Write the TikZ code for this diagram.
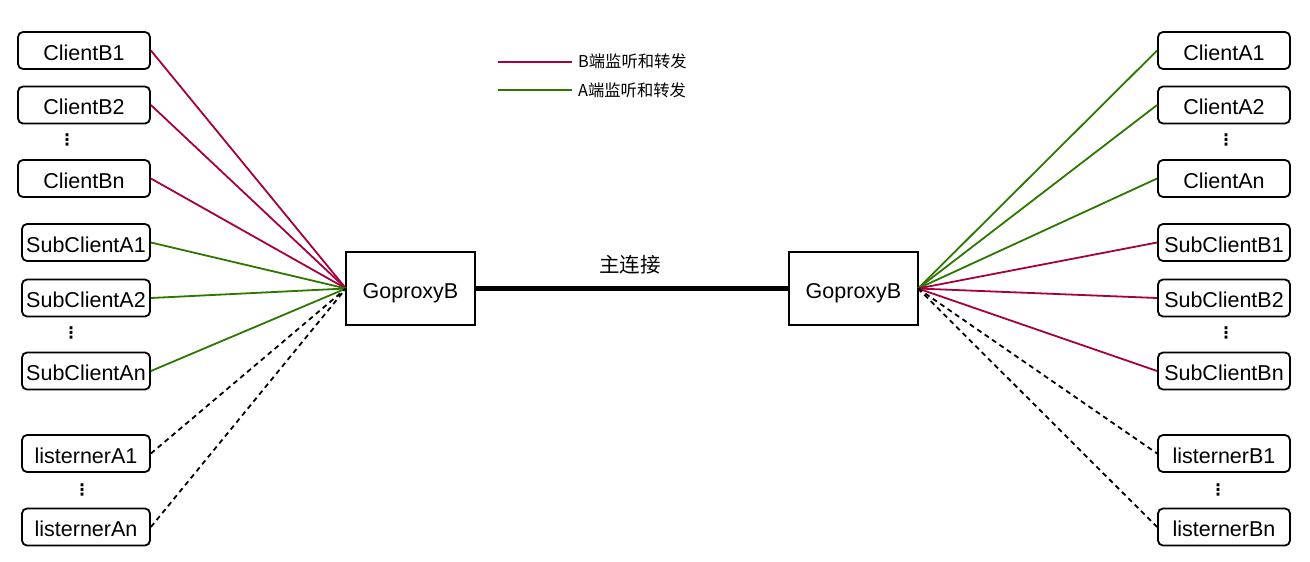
\documentclass[tikz,border=0pt]{standalone}
\usepackage{fontspec}
\setmainfont{Liberation Sans}
\newfontfamily\cjkfont{Noto Sans CJK SC}
\newfontfamily\dotfont{DejaVu Sans}
\definecolor{bred}{RGB}{165,0,64}
\definecolor{agreen}{RGB}{45,118,0}
\begin{document}
\begin{tikzpicture}[x=1pt,y=-1pt,
  cbox/.style={draw=black,line width=1.8pt,rounded corners=5pt,minimum width=132pt,minimum height=37pt,inner sep=0pt,text height=19.6pt,text depth=0pt,font=\fontsize{21.5}{24}\selectfont},
  sbox/.style={cbox,minimum width=128pt},
  gbox/.style={draw=black,line width=1.8pt,minimum width=129pt,minimum height=73pt,inner sep=0pt,text height=19.6pt,text depth=0pt,font=\fontsize{21.5}{24}\selectfont},
  vdot/.style={inner sep=0pt,font=\dotfont\bfseries\fontsize{16}{16}\selectfont},
  redline/.style={draw=bred,line width=1.8pt},
  greenline/.style={draw=agreen,line width=1.8pt},
  dashline/.style={draw=black,line width=1.8pt,dash pattern=on 5pt off 4pt},
  legtext/.style={anchor=west,inner sep=0pt,font=\cjkfont\fontsize{16.3}{18}\selectfont}
]
\useasboundingbox (0,0) rectangle (1310,562);
% left column
\node[cbox] (cb1) at (84,50.5) {ClientB1};
\node[cbox] (cb2) at (84,105) {ClientB2};
\node[vdot] (d1) at (67,140) {⋮};
\node[cbox] (cbn) at (84,178.5) {ClientBn};
\node[sbox] (sa1) at (86,242.5) {SubClientA1};
\node[sbox] (sa2) at (86,298) {SubClientA2};
\node[vdot] (d2) at (71,333) {⋮};
\node[sbox] (san) at (86,371) {SubClientAn};
\node[sbox] (la1) at (86,453.5) {listernerA1};
\node[vdot] (d3) at (82,490) {⋮};
\node[sbox] (lan) at (86,527) {listernerAn};
% right column
\node[cbox] (ca1) at (1224,50.5) {ClientA1};
\node[cbox] (ca2) at (1224,105) {ClientA2};
\node[vdot] (d4) at (1226,140) {⋮};
\node[cbox] (can) at (1224,178.5) {ClientAn};
\node[cbox] (sb1) at (1224,242.5) {SubClientB1};
\node[cbox] (sb2) at (1224,298) {SubClientB2};
\node[vdot] (d5) at (1226,333) {⋮};
\node[cbox] (sbn) at (1224,371) {SubClientBn};
\node[cbox] (lb1) at (1224,453.5) {listernerB1};
\node[vdot] (d6) at (1218,490) {⋮};
\node[cbox] (lbn) at (1224,527) {listernerBn};
% proxies
\node[gbox] (gl) at (410.5,288.5) {GoproxyB};
\node[gbox] (gr) at (853.5,288.5) {GoproxyB};
\coordinate (gle) at (346,288.5);
\coordinate (gre) at (918,288.5);
\draw[line width=5pt] (gl.east) -- (gr.west);
\node[inner sep=0pt,font=\cjkfont\fontsize{20.5}{22}\selectfont] (main) at (630,265) {主连接};
% left connectors
\draw[redline] (cb1.east) -- (gle);
\draw[redline] (cb2.east) -- (gle);
\draw[redline] (cbn.east) -- (gle);
\draw[greenline] (sa1.east) -- (gle);
\draw[greenline] (sa2.east) -- (gle);
\draw[greenline] (san.east) -- (gle);
\draw[dashline] (la1.east) -- (gle);
\draw[dashline] (lan.east) -- (gle);
% right connectors
\draw[greenline] (gre) -- (ca1.west);
\draw[greenline] (gre) -- (ca2.west);
\draw[greenline] (gre) -- (can.west);
\draw[redline] (gre) -- (sb1.west);
\draw[redline] (gre) -- (sb2.west);
\draw[redline] (gre) -- (sbn.west);
\draw[dashline] (gre) -- (lb1.west);
\draw[dashline] (gre) -- (lbn.west);
% legend
\coordinate (r1) at (498,62);
\coordinate (r2) at (572,62);
\coordinate (g1) at (498,90);
\coordinate (g2) at (572,90);
\draw[redline] (r1) -- (r2);
\draw[greenline] (g1) -- (g2);
\node[legtext] (lt1) at (578,61) {B端监听和转发};
\node[legtext] (lt2) at (578,90) {A端监听和转发};
\end{tikzpicture}
\end{document}
